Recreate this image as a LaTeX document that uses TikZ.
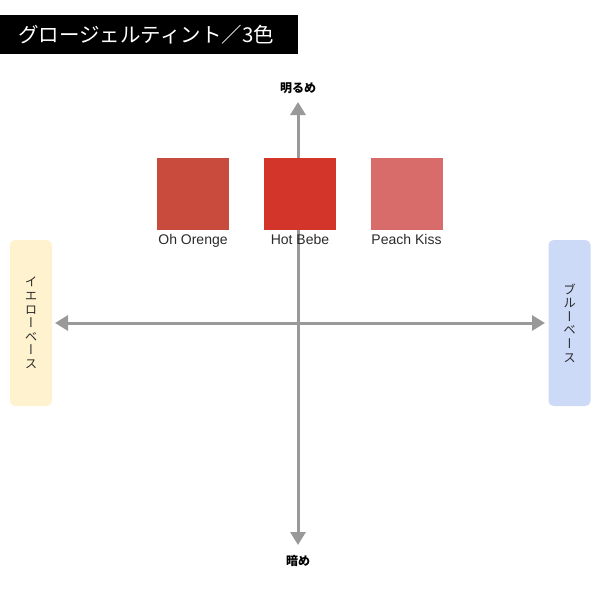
\documentclass[tikz,border=0pt]{standalone}
\usepackage{fontspec}
\setmainfont{Noto Sans CJK JP}
\newfontfamily\tate[RawFeature=+vert]{Noto Sans CJK JP}
\newfontfamily\latin{Liberation Sans}
\usetikzlibrary{arrows.meta, positioning}
\definecolor{axisgray}{HTML}{999999}
\definecolor{yellowbase}{HTML}{FFF3CF}
\definecolor{bluebase}{HTML}{CCDAF7}
\definecolor{ohorenge}{HTML}{C84B3E}
\definecolor{hotbebe}{HTML}{D3352B}
\definecolor{peachkiss}{HTML}{D86C6B}
\definecolor{labelgray}{HTML}{2A2A2A}

\begin{document}
\begin{tikzpicture}[x=1pt, y=-1pt,
	axis/.style={draw=axisgray, line width=3pt,
		{Triangle[length=13pt,width=15pt]}-{Triangle[length=13pt,width=15pt]}},
	swatch/.style={minimum size=72pt, inner sep=0pt},
	swatchname/.style={font=\latin\fontsize{14}{14}\selectfont, text=labelgray, inner sep=0pt},
	sidebox/.style={rounded corners=5pt, minimum width=42pt, minimum height=166pt,
		align=center, text=labelgray, font=\tate\fontsize{12.5}{13.6}\selectfont},
	axisname/.style={font=\bfseries\fontsize{12}{12}\selectfont, inner sep=0pt},
	]
	\useasboundingbox (0,0) rectangle (600,600);
	% title
	\node[fill=black, text=white, anchor=north west, inner xsep=18pt,
	text width=262pt, minimum height=39pt, align=left,
	font=\fontsize{20.5}{20.5}\selectfont] (title) at (0,15) {グロージェルティント／3色};
	% axes
	\coordinate (top) at (298,102);
	\coordinate (bottom) at (298,545);
	\coordinate (left) at (55,323);
	\coordinate (right) at (545,323);
	\draw[axis] (bottom) -- (top);
	\draw[axis] (left) -- (right);
	\node[axisname] (bright) at (298,88) {明るめ};
	\node[axisname] (dark) at (298,561) {暗め};
	% sides
	\node[sidebox, fill=yellowbase] (yellow) at (31,323) {イ\\エ\\ロ\\ー\\ベ\\ー\\ス};
	\node[sidebox, fill=bluebase] (blue) at (569.5,323) {ブ\\ル\\ー\\ベ\\ー\\ス};
	% swatches
	\node[swatch, fill=ohorenge] (oh) at (193,193.5) {};
	\node[swatch, fill=hotbebe] (hot) at (300,193.5) {};
	\node[swatch, fill=peachkiss] (peach) at (406.5,193.5) {};
	\node[swatchname, below=4pt of oh] (ohname) {Oh Orenge};
	\node[swatchname, below=4pt of hot] (hotname) {Hot Bebe};
	\node[swatchname, below=4pt of peach] (peachname) {Peach Kiss};
\end{tikzpicture}
\end{document}
